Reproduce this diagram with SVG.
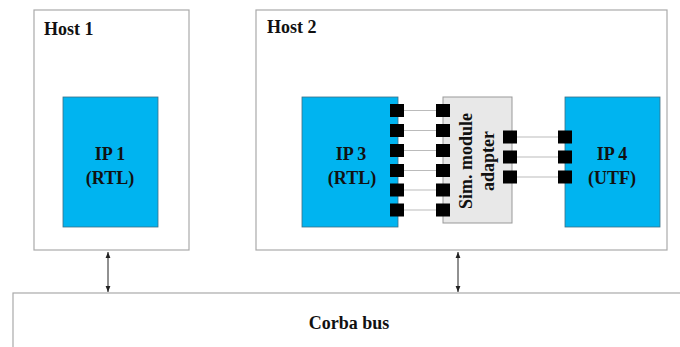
<svg xmlns="http://www.w3.org/2000/svg" width="680" height="347" viewBox="0 0 680 347">
<defs>
<style>
.host{fill:#fff;stroke:#aaa;stroke-width:1.2}
.ip{fill:#00b4f0;stroke:#3a6f86;stroke-width:0.8}
.ad{fill:#e8e8e8;stroke:#999;stroke-width:1}
.t{font-family:"Liberation Serif",serif;font-weight:bold;font-size:18px;fill:#111}
.c{text-anchor:middle}
.sq{fill:#000}
.w{stroke:#bbb;stroke-width:1.2;fill:none}
.ar{stroke:#222;stroke-width:1;fill:none;marker-start:url(#a);marker-end:url(#a)}
</style>
<marker id="a" viewBox="0 0 10 10" refX="10" refY="5" markerWidth="6" markerHeight="6" orient="auto-start-reverse"><path d="M0,1 L10,5 L0,9 z" fill="#222"/></marker>
</defs>
<g id="host1">
<rect class="host" x="34" y="10" width="155" height="240"/>
<text class="t" x="44" y="35">Host 1</text>
</g>
<g id="host2">
<rect class="host" x="256" y="10" width="411" height="240"/>
<text class="t" x="267" y="33">Host 2</text>
</g>
<g id="bus">
<rect class="host" x="13" y="293" width="700" height="80"/>
<text class="t c" x="349" y="329">Corba bus</text>
</g>
<g id="ip1">
<rect class="ip" x="63" y="97" width="95" height="130"/>
<text class="t c" x="110" y="160">IP 1</text>
<text class="t c" x="110" y="184">(RTL)</text>
</g>
<g id="ip3">
<rect class="ip" x="302" y="97" width="96" height="130"/>
<text class="t c" x="351" y="160">IP 3</text>
<text class="t c" x="352" y="184">(RTL)</text>
</g>
<g id="adapter">
<rect class="ad" x="443" y="97" width="69" height="126"/>
<text class="t c" transform="translate(472,161) rotate(-90)">Sim. module</text>
<text class="t c" transform="translate(494,161) rotate(-90)">adapter</text>
</g>
<g id="ip4">
<rect class="ip" x="565" y="97" width="95" height="130"/>
<text class="t c" x="612" y="160">IP 4</text>
<text class="t c" x="612" y="184">(UTF)</text>
</g>
<g id="connectors">
<path class="w" d="M404,110.5H436M404,130.5H436M404,150.5H436M404,170.5H436M404,190H436M404,210H436M517,137H558M517,157H558M517,177H558"/>
<g class="sq">
<rect x="390" y="104" width="14" height="13"/><rect x="390" y="124" width="14" height="13"/><rect x="390" y="144" width="14" height="13"/><rect x="390" y="164" width="14" height="13"/><rect x="390" y="183.5" width="14" height="13"/><rect x="390" y="203.5" width="14" height="13"/>
<rect x="436" y="104" width="14" height="13"/><rect x="436" y="124" width="14" height="13"/><rect x="436" y="144" width="14" height="13"/><rect x="436" y="164" width="14" height="13"/><rect x="436" y="183.5" width="14" height="13"/><rect x="436" y="203.5" width="14" height="13"/>
<rect x="503" y="130.5" width="14" height="13"/><rect x="503" y="150.5" width="14" height="13"/><rect x="503" y="170.5" width="14" height="13"/>
<rect x="558" y="130.5" width="14" height="13"/><rect x="558" y="150.5" width="14" height="13"/><rect x="558" y="170.5" width="14" height="13"/>
</g>
<line class="ar" x1="108" y1="252" x2="108" y2="292"/>
<line class="ar" x1="458" y1="252" x2="458" y2="292"/>
</g>
</svg>
